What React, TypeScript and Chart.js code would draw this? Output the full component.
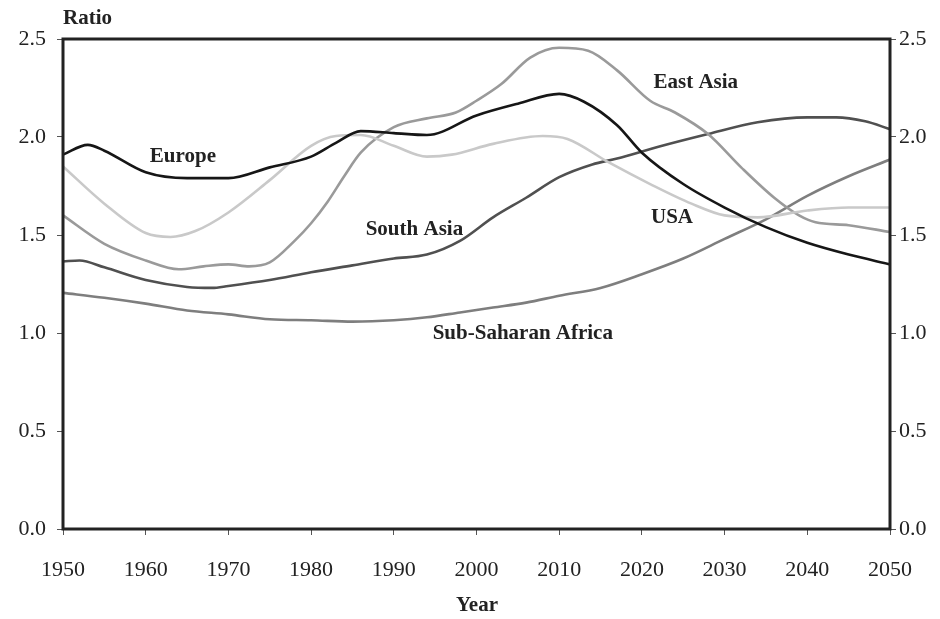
import React, { useEffect, useRef } from "react";
import { Chart, registerables } from "chart.js";

Chart.register(...registerables);

const europeYears = [1950, 1953, 1955, 1960, 1965, 1970, 1975, 1980, 1983, 1986, 1990, 1994, 2000, 2005, 2010, 2013, 2017, 2020, 2025, 2030, 2035, 2040, 2045, 2050];
const europeValues = [1.91, 1.96, 1.93, 1.82, 1.79, 1.79, 1.845, 1.9, 1.97, 2.03, 2.02, 2.01, 2.11, 2.17, 2.22, 2.18, 2.06, 1.92, 1.76, 1.64, 1.54, 1.46, 1.4, 1.35];

const usaYears = [1950, 1955, 1960, 1963, 1966, 1970, 1975, 1980, 1983, 1986, 1990, 1994, 1997, 2002, 2008, 2011, 2016, 2021, 2026, 2030, 2034, 2040, 2045, 2050];
const usaValues = [1.85, 1.66, 1.51, 1.49, 1.52, 1.615, 1.78, 1.955, 2.005, 2.01, 1.955, 1.9, 1.91, 1.965, 2.005, 1.99, 1.87, 1.76, 1.66, 1.6, 1.59, 1.625, 1.64, 1.64];

const eastAsiaYears = [1950, 1955, 1960, 1964, 1967, 1970, 1972.5, 1975, 1978, 1980, 1982, 1984, 1986, 1990, 1994, 1997.5, 2000, 2003, 2006.5, 2010, 2013.5, 2017, 2021, 2024, 2028, 2032, 2036, 2039, 2041, 2045, 2050];
const eastAsiaValues = [1.6, 1.455, 1.37, 1.325, 1.34, 1.35, 1.34, 1.36, 1.47, 1.56, 1.67, 1.8, 1.92, 2.05, 2.095, 2.125, 2.185, 2.27, 2.405, 2.455, 2.44, 2.34, 2.185, 2.125, 2.015, 1.845, 1.69, 1.6, 1.565, 1.55, 1.515];

const southAsiaYears = [1950, 1952, 1955, 1960, 1965, 1968, 1970, 1975, 1980, 1985, 1990, 1994, 1998, 2002, 2006, 2010, 2014, 2017, 2022, 2028, 2034, 2040, 2043.5, 2047, 2050];
const southAsiaValues = [1.365, 1.37, 1.335, 1.27, 1.235, 1.23, 1.24, 1.27, 1.31, 1.345, 1.38, 1.4, 1.47, 1.59, 1.69, 1.795, 1.86, 1.89, 1.95, 2.015, 2.075, 2.1, 2.1, 2.08, 2.04];

const ssaYears = [1950, 1955, 1960, 1965, 1970, 1975, 1980, 1985, 1990, 1994, 1998, 2002, 2006, 2010, 2015, 2020, 2025, 2030, 2035, 2040, 2045, 2050];
const ssaValues = [1.205, 1.18, 1.15, 1.115, 1.095, 1.07, 1.065, 1.058, 1.065, 1.08, 1.105, 1.13, 1.155, 1.19, 1.23, 1.3, 1.38, 1.48, 1.58, 1.7, 1.8, 1.885];

const seriesNames = ["Europe", "USA", "East Asia", "South Asia", "Sub-Saharan Africa"];
const seriesColors = ["#161616", "#c9c9c9", "#9a9a9a", "#505050", "#7e7e7e"];

// label anchor positions in data units (year, ratio)
const labelYears = [1960.5, 2021.1, 2021.4, 1986.6, 1994.7];
const labelValues = [1.9, 1.589, 2.276, 1.527, 0.998];

const xTicks = [1950, 1960, 1970, 1980, 1990, 2000, 2010, 2020, 2030, 2040, 2050];

const FONT = "'Liberation Serif', 'Times New Roman', serif";

function pts(xs: number[], ys: number[]) {
  return xs.map((x, i) => ({ x, y: ys[i] }));
}

export default function App() {
  const ref = useRef<HTMLCanvasElement | null>(null);

  useEffect(() => {
    if (!ref.current) return;
    const all = [
      pts(europeYears, europeValues),
      pts(usaYears, usaValues),
      pts(eastAsiaYears, eastAsiaValues),
      pts(southAsiaYears, southAsiaValues),
      pts(ssaYears, ssaValues),
    ];
    const decor = {
      id: "decor",
      afterDraw(chart: any) {
        const { ctx, chartArea } = chart;
        const xs = chart.scales.x;
        const ys = chart.scales.y;
        ctx.save();
        ctx.strokeStyle = "#222";
        ctx.lineWidth = 3;
        ctx.strokeRect(chartArea.left, chartArea.top, chartArea.right - chartArea.left, chartArea.bottom - chartArea.top);
        ctx.fillStyle = "#222";
        ctx.font = `bold 21px ${FONT}`;
        ctx.textBaseline = "middle";
        ctx.textAlign = "left";
        seriesNames.forEach((n, i) => {
          ctx.fillText(n, xs.getPixelForValue(labelYears[i]), ys.getPixelForValue(labelValues[i]));
        });
        ctx.fillText("Ratio", 63, 19);
        ctx.textAlign = "center";
        ctx.fillText("Year", 477, 606);
        ctx.restore();
      },
    };
    const chart = new Chart(ref.current, {
      type: "line",
      data: {
        datasets: all.map((d, i) => ({
          label: seriesNames[i],
          data: d,
          borderColor: seriesColors[i],
          borderWidth: 2.6,
          pointRadius: 0,
          fill: false,
          cubicInterpolationMode: "monotone" as const,
        })),
      },
      options: {
        animation: false,
        responsive: false,
        layout: { padding: { top: 39, left: 0, right: 0, bottom: 0 } },
        plugins: { legend: { display: false }, tooltip: { enabled: false } },
        scales: {
          x: {
            type: "linear",
            min: 1950,
            max: 2050,
            afterFit: (s: any) => { s.height = 90; },
            afterBuildTicks: (s: any) => { s.ticks = xTicks.map((v) => ({ value: v })); },
            ticks: {
              callback: (v: any) => String(v),
              color: "#222",
              font: { family: FONT, size: 22 },
              padding: 22,
              maxRotation: 0,
              autoSkip: false,
            },
            grid: { display: true, drawOnChartArea: false, drawTicks: true, tickLength: 6, color: "#555", lineWidth: 1 },
            border: { display: false },
          },
          y: {
            position: "left",
            min: 0,
            max: 2.5,
            afterFit: (s: any) => { s.width = 63; },
            ticks: {
              stepSize: 0.5,
              callback: (v: any) => Number(v).toFixed(1),
              color: "#222",
              font: { family: FONT, size: 22 },
              padding: 11,
            },
            grid: { display: true, drawOnChartArea: false, drawTicks: true, tickLength: 6, color: "#555", lineWidth: 1 },
            border: { display: false },
          },
          y2: {
            position: "right",
            min: 0,
            max: 2.5,
            afterFit: (s: any) => { s.width = 50; },
            ticks: {
              stepSize: 0.5,
              callback: (v: any) => Number(v).toFixed(1),
              color: "#222",
              font: { family: FONT, size: 22 },
              padding: 3,
            },
            grid: { display: true, drawOnChartArea: false, drawTicks: true, tickLength: 6, color: "#555", lineWidth: 1 },
            border: { display: false },
          },
        },
      },
      plugins: [decor],
    } as any);
    return () => chart.destroy();
  }, []);

  return (
    <div style={{ position: "absolute", left: 0, top: 0, width: 940, height: 619, background: "#fff" }}>
      <canvas ref={ref} width={940} height={619} style={{ display: "block" }} />
    </div>
  );
}
